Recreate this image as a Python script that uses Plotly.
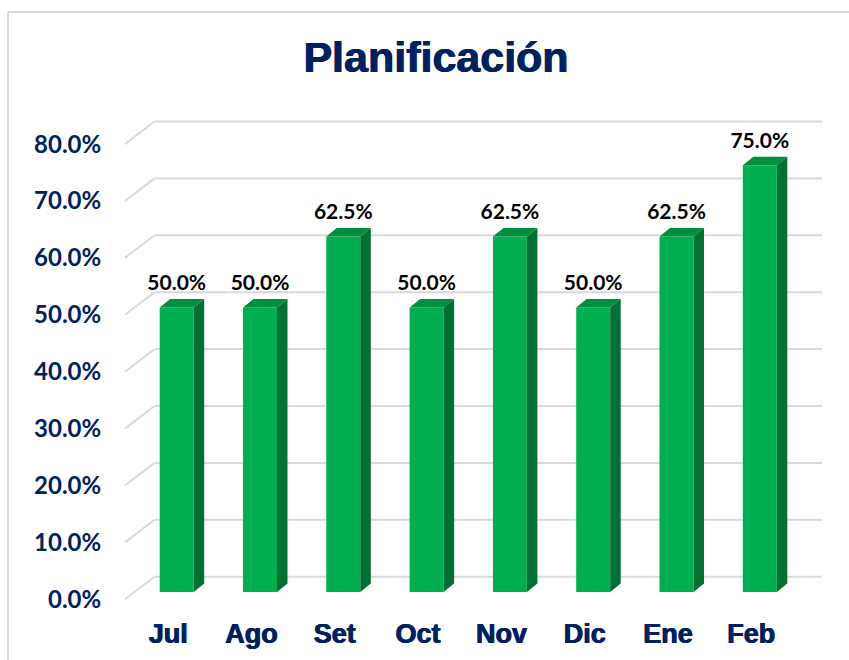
import plotly.graph_objects as go

# Data
categories = ["Jul", "Ago", "Set", "Oct", "Nov", "Dic", "Ene", "Feb"]
values = [50.0, 50.0, 62.5, 50.0, 62.5, 50.0, 62.5, 75.0]
y_ticks = [0, 10, 20, 30, 40, 50, 60, 70, 80]
title_text = "Planificación"

# Geometry of the pseudo-3D look, in data units
W, H = 849, 660
PX_L, PX_R, PX_T, PX_B = 120, 826, 116, 606
X0_PX, X_STEP = 176.7, 83.3
Y0_PX, Y_STEP = 592.0, 5.69
BAR_W = 34 / X_STEP
DX = 10.5 / X_STEP
DY = 8.5 / Y_STEP
FRONT_OFF = (Y0_PX - 599.3) / Y_STEP
WALL_OFF = (Y0_PX - 576.7) / Y_STEP
X_MIN = (PX_L - X0_PX) / X_STEP
X_MAX = (PX_R - X0_PX) / X_STEP
X_FRONT = (125 - X0_PX) / X_STEP
X_END = (822 - X0_PX) / X_STEP
X_WALL = (154.5 - X0_PX) / X_STEP
Y_MIN = (Y0_PX - PX_B) / Y_STEP
Y_MAX = (Y0_PX - PX_T) / Y_STEP
LABEL_SHIFT = -8.5 / X_STEP
LABEL_RISE = 23 / Y_STEP

NAVY = "#002060"
GRID = "#d9d9d9"
FRONT = "#00b050"
SIDE = "#007033"
TOP = "#008f3e"
BODY_FONT = "Lato"
HEAD_FONT = "Liberation Sans"
HEAVY = "0.5px 0 0 #002060, -0.5px 0 0 #002060"

xs = list(range(len(categories)))
fig = go.Figure()

fig.add_bar(x=xs, y=values, width=BAR_W, marker=dict(color=FRONT, line=dict(width=0)))

side_x, side_y, top_x, top_y = [], [], [], []
for x, v in zip(xs, values):
    l, r = x - BAR_W / 2, x + BAR_W / 2
    side_x += [r, r + DX, r + DX, r, r, None]
    side_y += [0, DY, v + DY, v, 0, None]
    top_x += [l, l + DX, r + DX, r, l, None]
    top_y += [v, v + DY, v + DY, v, v, None]

fig.add_scatter(x=side_x, y=side_y, mode="lines", fill="toself", fillcolor=SIDE,
                line=dict(width=0, color=SIDE), hoverinfo="skip")
fig.add_scatter(x=top_x, y=top_y, mode="lines", fill="toself", fillcolor=TOP,
                line=dict(width=0, color=TOP), hoverinfo="skip")

fig.add_scatter(x=xs, y=[v + LABEL_RISE for v in values], mode="text",
                text=[f"{v:.1f}%" for v in values], textposition="middle center",
                textfont=dict(family=BODY_FONT, size=21, color="#000000", weight="bold"),
                hoverinfo="skip")

# Back wall gridlines with their diagonal run to the front axis
shapes = []
grid_line = dict(color=GRID, width=2)
for t in y_ticks:
    shapes.append(dict(type="line", xref="x", yref="y", layer="below", line=grid_line,
                       x0=X_FRONT, y0=t + FRONT_OFF, x1=X_WALL, y1=t + WALL_OFF))
    shapes.append(dict(type="line", xref="x", yref="y", layer="below", line=grid_line,
                       x0=X_WALL, y0=t + WALL_OFF, x1=X_END, y1=t + WALL_OFF))

# Chart-area frame: top and left edges
def px_x(p):
    return (p - PX_L) / (PX_R - PX_L)

def px_y(p):
    return (PX_B - p) / (PX_B - PX_T)

frame = dict(color=GRID, width=2)
shapes.append(dict(type="line", xref="paper", yref="paper", layer="below", line=frame,
                   x0=px_x(8), y0=px_y(12), x1=px_x(849), y1=px_y(12)))
shapes.append(dict(type="line", xref="paper", yref="paper", layer="below", line=frame,
                   x0=px_x(8), y0=px_y(12), x1=px_x(8), y1=px_y(660)))

fig.update_layout(
    width=W, height=H, autosize=False, showlegend=False,
    paper_bgcolor="#ffffff", plot_bgcolor="rgba(0,0,0,0)",
    margin=dict(l=PX_L, r=W - PX_R, t=PX_T, b=H - PX_B, pad=0),
    title=dict(text=title_text, xref="container", yref="container",
               x=436 / W, xanchor="center", y=1 - 57 / H, yanchor="middle",
               font=dict(family=HEAD_FONT, size=43, color=NAVY, weight="bold", shadow=HEAVY)),
    shapes=shapes,
    xaxis=dict(range=[X_MIN, X_MAX], showgrid=False, zeroline=False, showline=False,
               automargin=False,
               tickmode="array", tickvals=[x + LABEL_SHIFT for x in xs], ticktext=categories,
               ticks="outside", ticklen=4, tickcolor="rgba(0,0,0,0)",
               tickfont=dict(family=HEAD_FONT, size=27, color=NAVY, weight="bold", shadow=HEAVY)),
    yaxis=dict(range=[Y_MIN, Y_MAX], showgrid=False, zeroline=False, showline=False,
               automargin=False,
               tickmode="array", tickvals=[t + FRONT_OFF for t in y_ticks],
               ticktext=[f"{t:.1f}%" for t in y_ticks],
               ticks="outside", ticklen=13, tickcolor="rgba(0,0,0,0)",
               tickfont=dict(family=BODY_FONT, size=24, color=NAVY, weight="bold")),
)

fig.write_html("out.html", post_script="document.body.style.margin='0';",
               config={"displayModeBar": False})
